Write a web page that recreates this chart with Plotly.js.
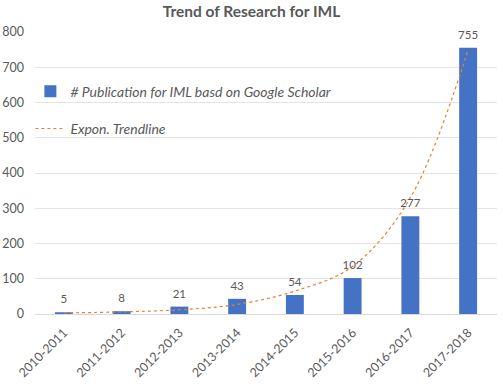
<!DOCTYPE html>
<html>
<head>
<meta charset="utf-8">
<script src="https://cdn.plot.ly/plotly-3.0.1.min.js"></script>
<style>html,body{margin:0;padding:0;background:#fff;}#chart{width:503px;height:384px;}</style>
</head>
<body>
<div id="chart"></div>
<script>
const categories = ["2010-2011","2011-2012","2012-2013","2013-2014","2014-2015","2015-2016","2016-2017","2017-2018"];
const publications = [5, 8, 21, 43, 54, 102, 277, 755];
const trendline = [3, 6, 12, 27, 65, 135, 330, 750];
const yTicks = [0, 100, 200, 300, 400, 500, 600, 700, 800];

const gray = "#595959";
const fontFam = "Lato, 'Open Sans', 'Liberation Sans', sans-serif";

const traces = [
  {
    type: "bar",
    x: categories,
    y: publications,
    name: "# Publication for IML basd on Google Scholar",
    legendgroup: "a",
    marker: {color: "#4472C4"},
    hoverinfo: "x+y"
  },
  {
    type: "scatter",
    mode: "lines",
    x: categories,
    y: trendline,
    name: "Expon. Trendline",
    legendgroup: "b",
    line: {color: "#ED7D31", width: 1.2, dash: "dot", shape: "spline"}
  },
  {
    type: "scatter",
    mode: "markers+text",
    x: categories,
    y: publications,
    text: publications.map(String),
    textposition: "top center",
    marker: {size: 8, opacity: 0, color: "#fff"},
    textfont: {color: gray, size: 11.5, family: fontFam},
    cliponaxis: false,
    showlegend: false,
    hoverinfo: "skip"
  }
];

const layout = {
  width: 503,
  height: 384,
  margin: {l: 35, r: 6, t: 32, b: 70},
  paper_bgcolor: "#fff",
  plot_bgcolor: "#fff",
  bargap: 0.69,
  font: {family: fontFam, color: gray, size: 11},
  title: {
    text: "<b>Trend of Research for IML</b>",
    font: {family: fontFam, size: 15.5, color: gray},
    x: 0.5, xanchor: "center", y: 0.985, yanchor: "top"
  },
  xaxis: {
    type: "category",
    tickangle: -45,
    tickfont: {size: 12.5, color: gray},
    showgrid: false,
    showline: false,
    zeroline: false,
    ticks: "",
    ticklabelstandoff: 8
  },
  yaxis: {
    range: [0, 800],
    tickvals: yTicks,
    ticktext: yTicks.map(String),
    tickfont: {size: 12.5, color: gray},
    gridcolor: "#e4e4e4",
    gridwidth: 1,
    zeroline: true,
    zerolinecolor: "#d9d9d9",
    ticks: "",
    ticklabelstandoff: 10,
    fixedrange: true
  },
  showlegend: true,
  legend: {
    x: -0.01, y: 0.845, xanchor: "left", yanchor: "top",
    bgcolor: "rgba(255,255,255,0)",
    font: {size: 14, color: gray, style: "italic", family: fontFam},
    traceorder: "grouped",
    tracegroupgap: 16,
    itemwidth: 30
  }
};

Plotly.newPlot("chart", traces, layout, {displayModeBar: false, staticPlot: true});
</script>
</body>
</html>
